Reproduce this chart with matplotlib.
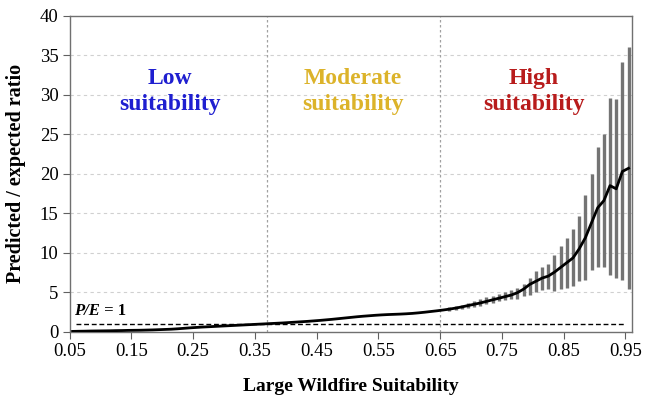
import numpy as np
import matplotlib
matplotlib.use("Agg")
import matplotlib.pyplot as plt

# ---- data ----
suitability = [round(0.055 + 0.01 * i, 3) for i in range(91)]
pe_ratio = [
    0.05, 0.07, 0.08, 0.10, 0.11, 0.12, 0.13, 0.15, 0.16, 0.18,
    0.19, 0.20, 0.22, 0.24, 0.27, 0.30, 0.33, 0.38, 0.44, 0.50,
    0.55, 0.60, 0.64, 0.68, 0.72, 0.76, 0.80, 0.84, 0.88, 0.92,
    0.96, 1.00, 1.04, 1.08, 1.12, 1.17, 1.22, 1.27, 1.32, 1.38,
    1.44, 1.51, 1.58, 1.66, 1.74, 1.82, 1.90, 1.97, 2.03, 2.09,
    2.14, 2.18, 2.21, 2.24, 2.28, 2.33, 2.40, 2.48, 2.57, 2.66,
    2.76, 2.87, 3.00, 3.15, 3.32, 3.48, 3.65, 3.85, 4.05, 4.25,
    4.45, 4.65, 4.95, 5.40, 6.00, 6.40, 6.80, 7.05, 7.55, 8.15,
    8.75, 9.35, 10.5, 11.9, 13.8, 15.7, 16.6, 18.5, 18.1, 20.3,
    20.7,
]
# confidence intervals for the bins from 0.665 upward
ci_x = [round(0.665 + 0.01 * i, 3) for i in range(30)]
ci_low = [
    2.60, 2.75, 2.90, 3.00, 3.15, 3.30, 3.50, 3.65, 3.85, 4.00,
    4.10, 4.20, 4.50, 4.70, 5.10, 5.30, 5.40, 5.20, 5.40, 5.50,
    5.80, 6.40, 6.60, 7.80, 8.20, 8.20, 7.20, 6.80, 6.60, 5.40,
]
ci_high = [
    3.10, 3.25, 3.45, 3.65, 3.85, 4.10, 4.40, 4.55, 4.80, 5.10,
    5.30, 5.60, 6.10, 6.80, 7.70, 8.20, 8.60, 9.70, 10.8, 11.9,
    13.0, 14.7, 17.3, 20.0, 23.4, 25.1, 29.6, 29.5, 34.2, 36.0,
]
x_ticks = [0.05, 0.15, 0.25, 0.35, 0.45, 0.55, 0.65, 0.75, 0.85, 0.95]
x_tick_labels = ["0.05", "0.15", "0.25", "0.35", "0.45", "0.55", "0.65", "0.75", "0.85", "0.95"]
y_ticks = [0, 5, 10, 15, 20, 25, 30, 35, 40]
class_breaks = [0.37, 0.65]
class_labels = ["Low\nsuitability", "Moderate\nsuitability", "High\nsuitability"]
class_label_x = [0.213, 0.509, 0.802]
class_colors = ["#1f1fd0", "#dcb32a", "#b81c1c"]

# ---- figure ----
plt.rcParams["font.family"] = ["Liberation Serif", "DejaVu Serif"]
fig = plt.figure(figsize=(6.46, 3.95), dpi=100)
ax = fig.add_axes([0.1076, 0.160, 0.8704, 0.800])

ax.set_xlim(0.05, 0.9602)
ax.set_ylim(0, 40)

# gridlines
for yv in y_ticks[1:-1]:
    ax.axhline(yv, color="#d0d0d0", lw=0.8, ls=(0, (3, 3)), zorder=0)
for xb in class_breaks:
    ax.axvline(xb, color="#a0a0a0", lw=0.9, ls=(0, (2, 2)), zorder=0)

# P/E = 1 reference line
ax.hlines(1, 0.06, 0.95, colors="black", lw=1.0, linestyles=(0, (3.5, 2)), zorder=1)
t1 = ax.text(0.058, 1.6, "P/E", fontsize=12, fontweight="bold", style="italic",
             ha="left", va="bottom")
ax.annotate(" = 1", xy=(1, 0), xycoords=t1, fontsize=12, fontweight="bold",
            ha="left", va="bottom")

# error bars
ax.vlines(ci_x, ci_low, ci_high, colors="#747474", lw=2.4, zorder=2)

# main line
ax.plot(suitability, pe_ratio, color="black", lw=2.0, zorder=3)

# class labels
for lx, lab, col in zip(class_label_x, class_labels, class_colors):
    ax.text(lx, 30.4, lab, color=col, fontsize=17, fontweight="bold",
            ha="center", va="center", linespacing=1.3)

# axes styling
ax.set_xticks(x_ticks)
ax.set_xticklabels(x_tick_labels)
ax.set_yticks(y_ticks)
ax.tick_params(axis="both", labelsize=13.5, direction="out", length=5,
               width=0.8, color="#606060", pad=3)
ax.tick_params(axis="y", pad=3)
for sp in ax.spines.values():
    sp.set_color("#707070")
    sp.set_linewidth(1.0)

ax.set_xlabel("Large Wildfire Suitability", fontsize=14, fontweight="bold")
ax.xaxis.set_label_coords(0.5, -0.145)
ax.set_ylabel("Predicted / expected ratio", fontsize=14.5, fontweight="bold")
ax.yaxis.set_label_coords(-0.078, 0.5)

fig.savefig("out.png", dpi=100)
